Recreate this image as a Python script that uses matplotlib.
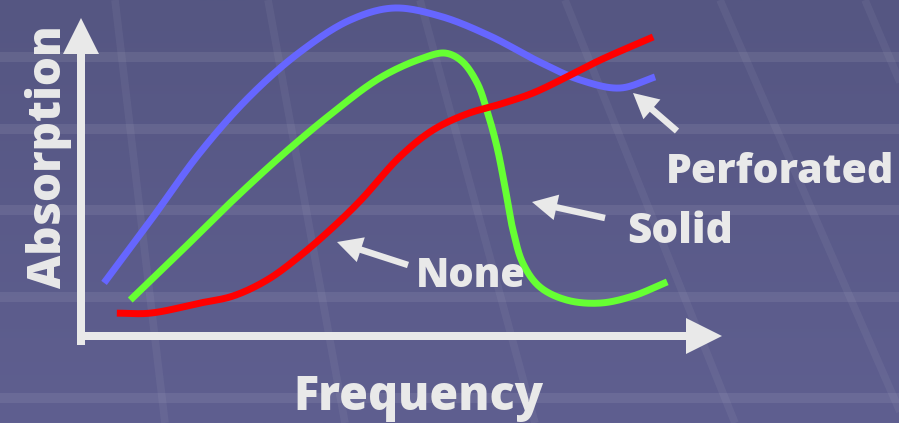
import numpy as np
import matplotlib
matplotlib.use("Agg")
import matplotlib.pyplot as plt
from matplotlib.patches import Polygon, FancyArrow
from matplotlib.colors import LinearSegmentedColormap

# ---------------- data (frequency %, absorption %) ----------------
perf_x = [3.6, 10.8, 18.6, 26.4, 34.2, 42.0, 48.8, 56.1, 63.9, 71.7, 78.0, 84.2, 89.7]
perf_y = [15.8, 34.2, 54.6, 71.4, 84.5, 94.0, 97.6, 95.2, 89.3, 81.5, 76.2, 73.8, 77.1]

solid_x = [7.7, 15.5, 23.3, 31.1, 38.9, 46.7, 52.97, 56.9, 59.5, 61.9, 63.4, 65.0,
           66.25, 67.5, 69.1, 71.7, 75.9, 81.1, 86.25, 91.6]
solid_y = [10.7, 25.0, 39.6, 53.3, 65.8, 76.8, 82.4, 84.2, 81.8, 75.3, 67.3, 56.25,
           44.3, 31.5, 21.4, 14.6, 10.7, 9.8, 11.9, 16.1]

none_x = [5.6, 10.8, 18.6, 23.75, 29.1, 34.2, 39.4, 43.75, 49.8, 55.0, 60.3, 65.5,
          70.6, 75.9, 81.1, 89.4]
none_y = [6.8, 6.8, 9.8, 11.9, 16.7, 23.8, 32.4, 40.5, 53.3, 61.3, 66.1, 69.0,
          72.3, 77.1, 82.1, 89.0]

series_labels = ["Perforated", "Solid", "None"]
series_colors = ["#6666ff", "#66ff33", "#ff0000"]
x_label = "Frequency"
y_label = "Absorption"

# ---------------- helpers ----------------
def smooth(xs, ys, sx=6.4, sy=3.36, n=24):
    P = np.column_stack([np.asarray(xs) * sx, np.asarray(ys) * sy])
    P = np.vstack([2 * P[0] - P[1], P, 2 * P[-1] - P[-2]])
    out = []
    for i in range(1, len(P) - 2):
        p0, p1, p2, p3 = P[i - 1:i + 3]
        t0 = 0.0
        t1 = t0 + np.linalg.norm(p1 - p0) ** 0.5
        t2 = t1 + np.linalg.norm(p2 - p1) ** 0.5
        t3 = t2 + np.linalg.norm(p3 - p2) ** 0.5
        t = np.linspace(t1, t2, n)[:, None]
        A1 = (t1 - t) / (t1 - t0) * p0 + (t - t0) / (t1 - t0) * p1
        A2 = (t2 - t) / (t2 - t1) * p1 + (t - t1) / (t2 - t1) * p2
        A3 = (t3 - t) / (t3 - t2) * p2 + (t - t2) / (t3 - t2) * p3
        B1 = (t2 - t) / (t2 - t0) * A1 + (t - t0) / (t2 - t0) * A2
        B2 = (t3 - t) / (t3 - t1) * A2 + (t - t1) / (t3 - t1) * A3
        C = (t2 - t) / (t2 - t1) * B1 + (t - t1) / (t2 - t1) * B2
        out.append(C if i == 1 else C[1:])
    out = np.vstack(out)
    return out[:, 0] / sx, out[:, 1] / sy

W, H = 899, 423
fig = plt.figure(figsize=(W / 100, H / 100), dpi=100)

# background axes in pixel coordinates
bg = fig.add_axes([0, 0, 1, 1])
bg.set_xlim(0, W)
bg.set_ylim(H, 0)
bg.axis("off")
cmap = LinearSegmentedColormap.from_list("bg", ["#555682", "#5f5f90"])
grad = np.linspace(0, 1, 256)[:, None]
bg.imshow(grad, extent=(0, W, H, 0), cmap=cmap, aspect="auto", zorder=0)

for yc in [57, 129, 210, 297, 398]:
    bg.axhspan(yc - 5, yc + 5, color="white", alpha=0.08, lw=0, zorder=1)
for x0, x1 in [(115, 165), (268, 345), (420, 535), (565, 735), (720, 905), (865, 1045)]:
    bg.plot([x0, x1], [0, H], color="white", alpha=0.05, lw=5.5, zorder=1,
            solid_capstyle="butt")

fg = "#e9e9e9"
# axis arrows
bg.add_patch(Polygon([(77, 345), (85, 345), (85, 54), (99, 54), (81, 18), (63, 54), (77, 54)],
                     closed=True, color=fg, lw=0, zorder=3))
bg.add_patch(Polygon([(77, 332), (686, 332), (686, 318), (722, 336), (686, 354), (686, 340), (77, 340)],
                     closed=True, color=fg, lw=0, zorder=3))

# data axes
ax = fig.add_axes([81 / W, (H - 336) / H, 640 / W, 336 / H])
ax.set_xlim(0, 100)
ax.set_ylim(0, 100)
ax.axis("off")
ax.patch.set_alpha(0)
for xs, ys, c in [(perf_x, perf_y, series_colors[0]),
                  (solid_x, solid_y, series_colors[1]),
                  (none_x, none_y, series_colors[2])]:
    sx_, sy_ = smooth(xs, ys)
    ax.plot(sx_, sy_, color=c, lw=5.0, solid_capstyle="butt", clip_on=False, zorder=4)

# overlay axes for labels (pixel coordinates)
ov = fig.add_axes([0, 0, 1, 1])
ov.set_xlim(0, W)
ov.set_ylim(H, 0)
ov.axis("off")
ov.patch.set_alpha(0)

for (tx, ty), (hx, hy) in [((677, 131), (633, 93)), ((605, 218), (532, 202)), ((408, 265), (337, 242))]:
    ov.add_patch(FancyArrow(tx, ty, hx - tx, hy - ty, width=6.5, head_width=26, head_length=25,
                            length_includes_head=True, color=fg, lw=0, zorder=6))

renderer = fig.canvas.get_renderer()
font = dict(family=["Open Sans", "DejaVu Sans"], weight=800, color=fg)

def fit(t, target, vertical=False):
    t.set_fontsize(30)
    bb = t.get_window_extent(renderer=renderer)
    w = bb.height if vertical else bb.width
    t.set_fontsize(30 * target / w)

t = ov.text(418.5, 410, x_label, ha="center", va="baseline", zorder=7, **font)
fit(t, 250)
t = ov.text(61, 157, y_label, ha="center", va="baseline", rotation=90,
            rotation_mode="anchor", zorder=7, **font)
fit(t, 263, vertical=True)
for (lx, ly), s, wdt in [((666, 183), series_labels[0], 228),
                         ((627, 243), series_labels[1], 106),
                         ((416, 287), series_labels[2], 110)]:
    t = ov.text(lx, ly, s, ha="left", va="baseline", zorder=7, **font)
    fit(t, wdt)

fig.savefig("out.png", dpi=100)
